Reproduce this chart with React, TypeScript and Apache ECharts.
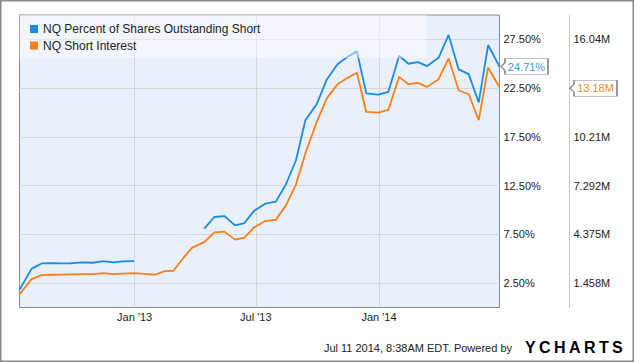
import React, { useEffect, useRef } from "react";
import * as echarts from "echarts";

const dates = [
  "2012-07-13", "2012-07-31", "2012-08-15", "2012-08-31", "2012-09-14", "2012-09-28",
  "2012-10-15", "2012-10-31", "2012-11-15", "2012-11-30", "2012-12-14", "2012-12-31",
  "2013-01-15", "2013-01-31", "2013-02-15", "2013-02-28", "2013-03-15", "2013-03-28",
  "2013-04-15", "2013-04-30", "2013-05-15", "2013-05-31", "2013-06-14", "2013-06-28",
  "2013-07-15", "2013-07-31", "2013-08-15", "2013-08-30", "2013-09-13", "2013-09-30",
  "2013-10-15", "2013-10-31", "2013-11-15", "2013-11-29", "2013-12-13", "2013-12-31",
  "2014-01-15", "2014-01-31", "2014-02-14", "2014-02-28", "2014-03-14", "2014-03-31",
  "2014-04-15", "2014-04-30", "2014-05-15", "2014-05-30", "2014-06-13", "2014-06-30",
];

// NQ Percent of Shares Outstanding Short (%)
const pctShort: (number | null)[] = [
  1.82, 3.96, 4.52, 4.55, 4.52, 4.54, 4.62, 4.59, 4.76, 4.62, 4.73, 4.76,
  null, null, null, null, null, null,
  8.09, 9.28, 9.38, 8.42, 8.66, 9.89,
  10.65, 10.86, 12.64, 15.10, 19.21, 20.86, 23.39, 24.94, 25.72, 26.27, 21.96, 21.83,
  22.12, 25.82, 25.00, 25.17, 24.76, 25.61, 27.95, 24.42, 23.94, 21.03, 26.92, 24.71,
];

// NQ Short Interest (millions of shares)
const shortInterest: number[] = [
  0.78, 1.70, 1.94, 1.96, 1.97, 1.98, 1.99, 2.00, 2.06, 2.00, 2.03, 2.06,
  2.01, 1.96, 2.18, 2.20, 2.98, 3.58, 3.91, 4.49, 4.54, 4.06, 4.18, 4.78,
  5.17, 5.25, 6.11, 7.37, 9.21, 11.11, 12.51, 13.35, 13.74, 14.04, 11.70, 11.66,
  11.82, 13.80, 13.36, 13.44, 13.20, 13.66, 14.90, 13.00, 12.76, 11.21, 14.36, 13.18,
];

const seriesNames = ["NQ Percent of Shares Outstanding Short", "NQ Short Interest"];
const xTickDates = ["2013-01-01", "2013-07-01", "2014-01-01"];
const monthNames = ["Jan", "Feb", "Mar", "Apr", "May", "Jun", "Jul", "Aug", "Sep", "Oct", "Nov", "Dec"];
const pctTicks = [2.5, 7.5, 12.5, 17.5, 22.5, 27.5];
const shareTicks = [1.458333, 4.375, 7.291667, 10.208333, 13.125, 16.041667];
// the 13.13M tick label is hidden behind the current-value tag in the reference
const hiddenShareTick = 13.125;
const footerText = "Jul 11 2014, 8:38AM EDT. Powered by";
const logoLetters = ["Y", "C", "H", "A", "R", "T", "S"];

const BLUE = "#1a8ce6";
const ORANGE = "#fb7f17";
const FONT = "'Liberation Sans', Arial, sans-serif";

const parseLocal = (s: string) => {
  const [y, m, d] = s.split("-").map(Number);
  return new Date(y, m - 1, d).getTime();
};

const tagPath = "path://M0,8 L4,4 L4,0 L47,0 L47,16 L4,16 L4,12 Z";

export default function App() {
  const ref = useRef<HTMLDivElement>(null);
  useEffect(() => {
    document.body.style.margin = "0";
    if (!ref.current) return;
    const chart = echarts.init(ref.current, undefined, { renderer: "svg" });
    const xTicks = xTickDates.map(parseLocal);
    const last = dates.length - 1;
    const logoRich: Record<string, any> = {};
    const logoText = logoLetters
      .map((ch, i) => {
        const key = "l" + i;
        logoRich[key] = {
          fontSize: 16,
          fontWeight: "bold",
          fontFamily: FONT,
          color: i === 0 ? "#2b8fe0" : "#2a2a2a",
          padding: [0, i === logoLetters.length - 1 ? 0 : 3.4, 0, 0],
        };
        return "{" + key + "|" + ch + "}";
      })
      .join("");
    chart.setOption({
      animation: false,
      textStyle: { fontFamily: FONT },
      grid: {
        left: 19.5,
        top: 15,
        right: 135.5,
        bottom: 54.5,
        show: true,
        backgroundColor: "#eaf0fb",
        borderColor: "#8a8a8a",
        borderWidth: 1,
      },
      legend: {
        orient: "vertical",
        left: 19.5,
        top: 15,
        padding: [7, 166, 5.5, 10.5],
        itemGap: 2.5,
        itemWidth: 8,
        itemHeight: 8,
        icon: "rect",
        selectedMode: false,
        backgroundColor: "rgba(255,255,255,0.45)",
        textStyle: { fontSize: 12, color: "#222", lineHeight: 14, fontFamily: FONT },
        data: seriesNames,
      },
      xAxis: {
        type: "value",
        min: parseLocal(dates[0]),
        max: parseLocal(dates[last]),
        axisLine: { show: false },
        axisTick: { show: false, customValues: xTicks },
        axisLabel: {
          customValues: xTicks,
          margin: 4,
          fontSize: 11,
          color: "#222",
          formatter: (v: number) => {
            const d = new Date(v);
            return monthNames[d.getMonth()] + " '" + String(d.getFullYear()).slice(2);
          },
        },
        splitLine: { show: true, lineStyle: { color: "#d6d6d6", width: 1 } },
      },
      yAxis: [
        {
          type: "value",
          position: "right",
          min: 0,
          max: 30,
          axisLine: { show: false },
          axisTick: { show: false, customValues: pctTicks },
          axisLabel: {
            customValues: pctTicks,
            margin: 4,
            fontSize: 11,
            color: "#222",
            formatter: (v: number) => v.toFixed(2) + "%",
          },
          splitLine: { show: true, lineStyle: { color: "#d6d6d6", width: 1 } },
        },
        {
          type: "value",
          position: "right",
          offset: 70,
          min: 0,
          max: 17.5,
          axisLine: { show: true, lineStyle: { color: "#c8c8c8", width: 1 } },
          axisTick: { show: false, customValues: shareTicks },
          axisLabel: {
            customValues: shareTicks,
            margin: 4,
            fontSize: 11,
            color: "#222",
            formatter: (v: number) =>
              Math.abs(v - hiddenShareTick) < 1e-6 ? "" : v.toPrecision(4) + "M",
          },
          splitLine: { show: false },
        },
      ],
      series: [
        {
          name: seriesNames[0],
          type: "line",
          yAxisIndex: 0,
          color: BLUE,
          showSymbol: false,
          symbol: "none",
          connectNulls: false,
          lineStyle: { color: BLUE, width: 1.8 },
          data: dates.map((d, i) => [parseLocal(d), pctShort[i] === null ? "-" : pctShort[i]]),
          z: 3,
          markPoint: {
            symbol: tagPath,
            symbolSize: [47, 16],
            symbolKeepAspect: false,
            symbolOffset: [25, 0],
            silent: true,
            itemStyle: { color: "#fff", borderColor: "#8a8a8a", borderWidth: 1 },
            label: {
              show: true,
              position: "inside",
              offset: [2, 0],
              color: "#3399e6",
              fontSize: 11,
              fontFamily: FONT,
              formatter: () => (pctShort[last] as number).toFixed(2) + "%",
            },
            data: [{ coord: [parseLocal(dates[last]), pctShort[last]] }],
          },
        },
        {
          name: seriesNames[1],
          type: "line",
          yAxisIndex: 1,
          color: ORANGE,
          showSymbol: false,
          symbol: "none",
          lineStyle: { color: ORANGE, width: 1.8 },
          data: dates.map((d, i) => [parseLocal(d), shortInterest[i]]),
          z: 2,
          markPoint: {
            symbol: tagPath,
            symbolSize: [47, 16],
            symbolKeepAspect: false,
            symbolOffset: [94, 1],
            silent: true,
            itemStyle: { color: "#fff", borderColor: "#8a8a8a", borderWidth: 1 },
            label: {
              show: true,
              position: "inside",
              offset: [2, 0],
              color: "#f28a22",
              fontSize: 11,
              fontFamily: FONT,
              formatter: () => shortInterest[last].toFixed(2) + "M",
            },
            data: [{ coord: [parseLocal(dates[last]), shortInterest[last]] }],
          },
        },
      ],
      graphic: [
        {
          type: "rect",
          shape: { x: 0.75, y: 0.75, width: 632.5, height: 360.5 },
          style: { fill: "none", stroke: "#8a8a8a", lineWidth: 1.5 },
          silent: true,
          z: 10,
        },
        {
          type: "text",
          right: 123,
          top: 342,
          style: { text: footerText, fontSize: 11, fill: "#222", fontFamily: FONT },
          silent: true,
        },
        {
          type: "text",
          left: 525,
          top: 339,
          style: { text: logoText, rich: logoRich, fontFamily: FONT },
          silent: true,
        },
      ],
    });
    return () => chart.dispose();
  }, []);
  return <div ref={ref} style={{ width: 635, height: 362 }} />;
}
